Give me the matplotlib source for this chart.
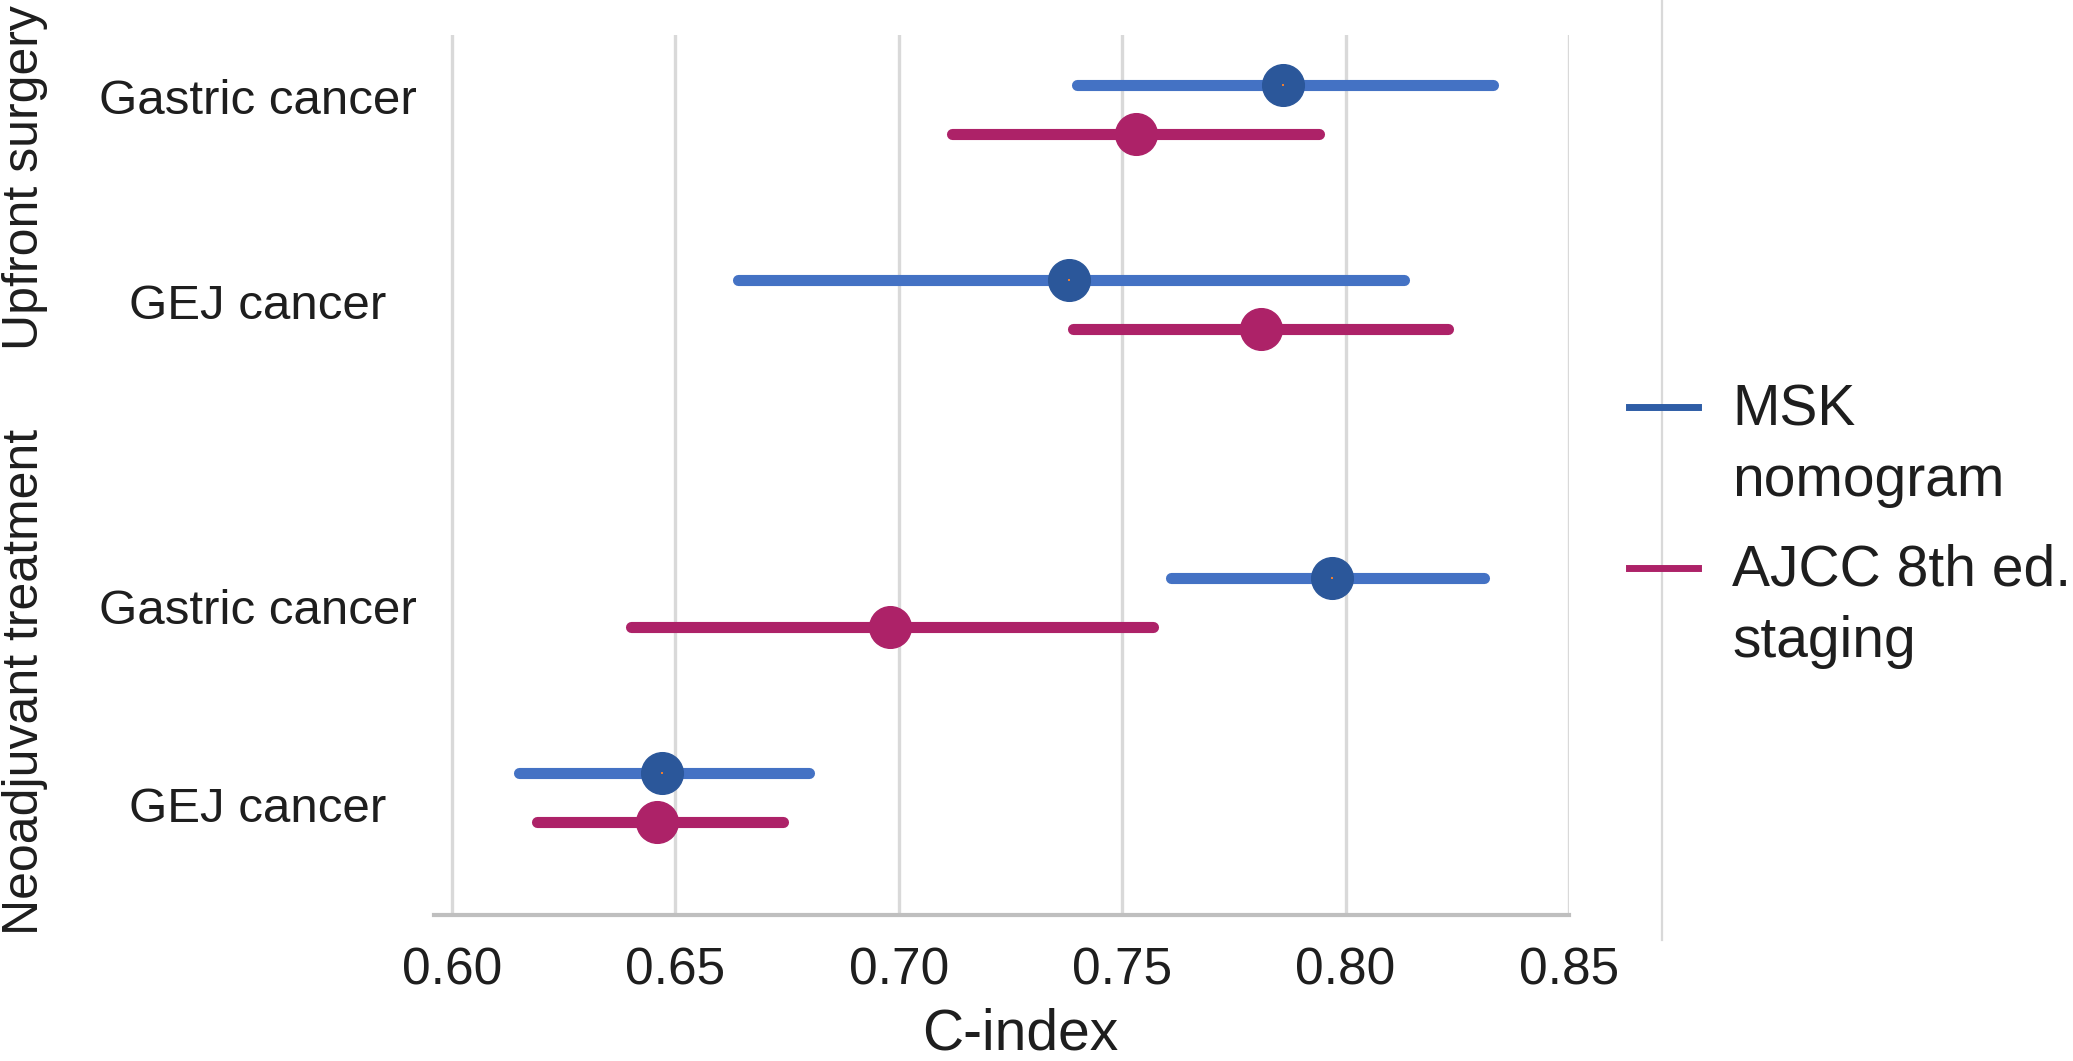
import matplotlib.pyplot as plt
from matplotlib.lines import Line2D

plt.rcParams['font.family'] = ['Liberation Sans', 'DejaVu Sans']

# rows, top to bottom
groups = ['Upfront surgery', 'Neoadjuvant treatment']
categories = ['Gastric cancer', 'GEJ cancer', 'Gastric cancer', 'GEJ cancer']

# C-index with 95% CI
msk_est = [0.786, 0.738, 0.797, 0.647]
msk_lo = [0.740, 0.664, 0.761, 0.615]
msk_hi = [0.833, 0.813, 0.831, 0.680]

ajcc_est = [0.753, 0.781, 0.698, 0.646]
ajcc_lo = [0.712, 0.739, 0.640, 0.619]
ajcc_hi = [0.794, 0.823, 0.757, 0.674]

series_names = ['MSK\nnomogram', 'AJCC 8th ed.\nstaging']
xticks = [0.60, 0.65, 0.70, 0.75, 0.80, 0.85]

# colours
MSK_LINE = '#4472C4'
MSK_DOT = '#2B579A'
MSK_LEG = '#2E5DA6'
AJCC = '#AD2268'
GRID = '#d9d9d9'
TXT = '#1e1e1e'

W, H = 2073, 1061
fig = plt.figure(figsize=(W / 100, H / 100), dpi=100)
ax = fig.add_axes([434 / W, 1 - 915 / H, (1569 - 434) / W, (915 - 35) / H])

# vertical layout of the rows (gap between the two groups)
cat_pos = [0, 1, 2.52, 3.52]
label_pos = [-0.04, 1.01, 2.57, 3.58]
off = 0.125
y_msk = [p - off for p in cat_pos]
y_ajcc = [p + off for p in cat_pos]

for i in range(len(categories)):
    ax.plot([msk_lo[i], msk_hi[i]], [y_msk[i]] * 2, color=MSK_LINE, lw=8,
            solid_capstyle='round', zorder=2)
    ax.plot([ajcc_lo[i], ajcc_hi[i]], [y_ajcc[i]] * 2, color=AJCC, lw=8,
            solid_capstyle='round', zorder=2)

ax.plot(msk_est, y_msk, 'o', ms=30, color=MSK_DOT, mec=MSK_DOT, zorder=3)
ax.plot(msk_est, y_msk, 's', ms=2, color='#ED7D31', mew=0, zorder=4)
ax.plot(ajcc_est, y_ajcc, 'o', ms=30, color=AJCC, mec=AJCC, zorder=3)

ax.set_xlim(0.596, 0.85)
ax.set_ylim(4.12, -0.38)
ax.set_xticks(xticks)
ax.set_xticklabels([f'{t:.2f}' for t in xticks])
ax.set_yticks([])
ax.grid(axis='x', color=GRID, lw=2.4)
ax.set_axisbelow(True)
for s in ['left', 'top', 'right']:
    ax.spines[s].set_visible(False)
ax.spines['bottom'].set_color('#bfbfbf')
ax.spines['bottom'].set_linewidth(3)
ax.tick_params(axis='x', length=0, pad=23, labelsize=37, labelcolor=TXT)

# category labels
for p, lab in zip(label_pos, categories):
    ax.text(-0.155, p, lab, transform=ax.get_yaxis_transform(),
            ha='center', va='center', fontsize=35.5, color=TXT)

# group labels
fig.text(2 / W, 1 - 178 / H, groups[0], rotation=90, ha='left', va='center',
         fontsize=36, color=TXT)
fig.text(2 / W, 1 - 682 / H, groups[1], rotation=90, ha='left', va='center',
         fontsize=36, color=TXT)

fig.text(1020 / W, 1 - 1050 / H, 'C-index', ha='center', va='baseline',
         fontsize=41, color=TXT)

# thin separator line right of the plot
fig.add_artist(Line2D([1662 / W] * 2, [1, 1 - 940 / H], color=GRID, lw=1.6))

# legend drawn by hand
leg_y = [407, 568]
leg_cols = [MSK_LEG, AJCC]
for yy, col, name in zip(leg_y, leg_cols, series_names):
    fig.add_artist(Line2D([1629 / W, 1698 / W], [1 - yy / H] * 2, color=col, lw=5))
    first, second = name.split('\n')
    fig.text(1732 / W, 1 - (yy + 18) / H, first, ha='left', va='baseline',
             fontsize=41, color=TXT)
    fig.text(1732 / W, 1 - (yy + 89) / H, second, ha='left', va='baseline',
             fontsize=41, color=TXT)

fig.savefig('out.png', dpi=100)
